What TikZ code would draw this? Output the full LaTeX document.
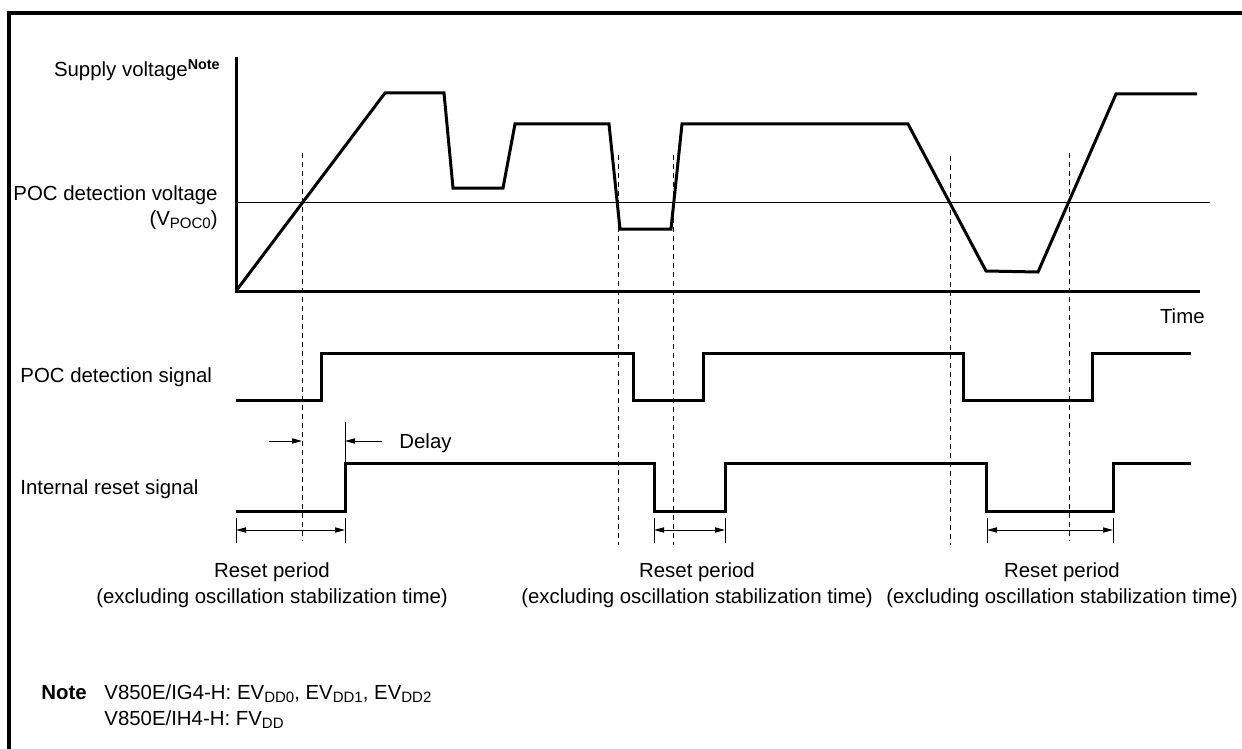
\documentclass[tikz,border=0pt]{standalone}
\usepackage{fontspec}
\setmainfont{Liberation Sans}
\usetikzlibrary{arrows.meta}
\newcommand{\lowsub}[1]{\raisebox{-0.3ex}{\fontsize{7.5}{8}\selectfont #1}}

\begin{document}
\begin{tikzpicture}[x=0.5pt, y=-0.5pt,
  wave/.style={line width=1.5pt},
  guide/.style={line width=0.5pt, dash pattern=on 2.5pt off 2pt},
  dim/.style={line width=0.5pt},
  tipr/.style={-{Triangle[length=5pt,width=2.6pt]}},
  tipb/.style={{Triangle[length=5pt,width=2.6pt]}-{Triangle[length=5pt,width=2.6pt]}},
  lbl/.style={inner sep=0pt, font=\fontsize{10.2}{13}\selectfont}]
  \useasboundingbox (0,0) rectangle (1242,749);
  % frame
  \draw[line width=2pt] (8.5,749) -- (8.5,13) -- (1242,13);
  % axes and POC level
  \draw[wave] (236,57) -- (236,291) -- (1200,291);
  \draw[dim] (236,202) -- (1210,202);
  % supply voltage
  \draw[wave] (236,291) -- (385,93) -- (444,93) -- (453,188) -- (503,188)
    -- (515,124) -- (609,124) -- (620,229) -- (671,229) -- (682,124)
    -- (908,124) -- (986,271) -- (1038,272) -- (1116,94) -- (1197,94);
  % guide lines
  \foreach \x/\t/\b in {302/153/541, 618/155/545, 673/155/545, 950/156/545, 1069/153/541}
    \draw[guide] (\x,\t) -- (\x,\b);
  % POC detection signal
  \draw[wave] (236,400) -- (321,400) -- (321,353) -- (633,353) -- (633,400)
    -- (703,400) -- (703,353) -- (963,353) -- (963,400) -- (1092,400)
    -- (1092,353) -- (1191,353);
  % internal reset signal
  \draw[wave] (236,511) -- (345,511) -- (345,463) -- (654,463) -- (654,511)
    -- (725,511) -- (725,463) -- (986,463) -- (986,511) -- (1113,511)
    -- (1113,463) -- (1191,463);
  % delay
  \draw[dim] (345,422) -- (345,463);
  \draw[dim, tipr] (269,441) -- (302,441);
  \draw[dim, tipr] (382,441) -- (345,441);
  % reset periods
  \foreach \a/\b in {236/345, 654/725, 987/1113} {
    \draw[dim] (\a,518) -- (\a,543);
    \draw[dim] (\b,518) -- (\b,543);
    \draw[dim, tipb] (\a,530) -- (\b,530);}
  % labels
  \node[lbl, anchor=base east] (supply) at (221,77) {Supply voltage\textsuperscript{\bfseries Note}};
  \node[lbl, anchor=base east] (pocv) at (218,200) {POC detection voltage};
  \node[lbl, anchor=base east] (vpoc) at (218,225) {(V\lowsub{POC0})};
  \node[lbl, anchor=base east] (time) at (1205,323) {Time};
  \node[lbl, anchor=base west] (pocsig) at (20,382) {POC detection signal};
  \node[lbl, anchor=base west] (rstsig) at (20,494) {Internal reset signal};
  \node[lbl, anchor=base west] (delay) at (399,448) {Delay};
  \node[lbl, align=center, anchor=north] (rp1) at (272,562) {Reset period\\(excluding oscillation stabilization time)};
  \node[lbl, align=center, anchor=north] (rp2) at (697,562) {Reset period\\(excluding oscillation stabilization time)};
  \node[lbl, align=center, anchor=north] (rp3) at (1062,562) {Reset period\\(excluding oscillation stabilization time)};
  % note
  \node[lbl, anchor=base west] (note) at (41,699) {\bfseries Note};
  \node[lbl, anchor=base west] (note1) at (104,699) {V850E/IG4-H: EV\lowsub{DD0}, EV\lowsub{DD1}, EV\lowsub{DD2}};
  \node[lbl, anchor=base west] (note2) at (104,725) {V850E/IH4-H: FV\lowsub{DD}};
\end{tikzpicture}
\end{document}
